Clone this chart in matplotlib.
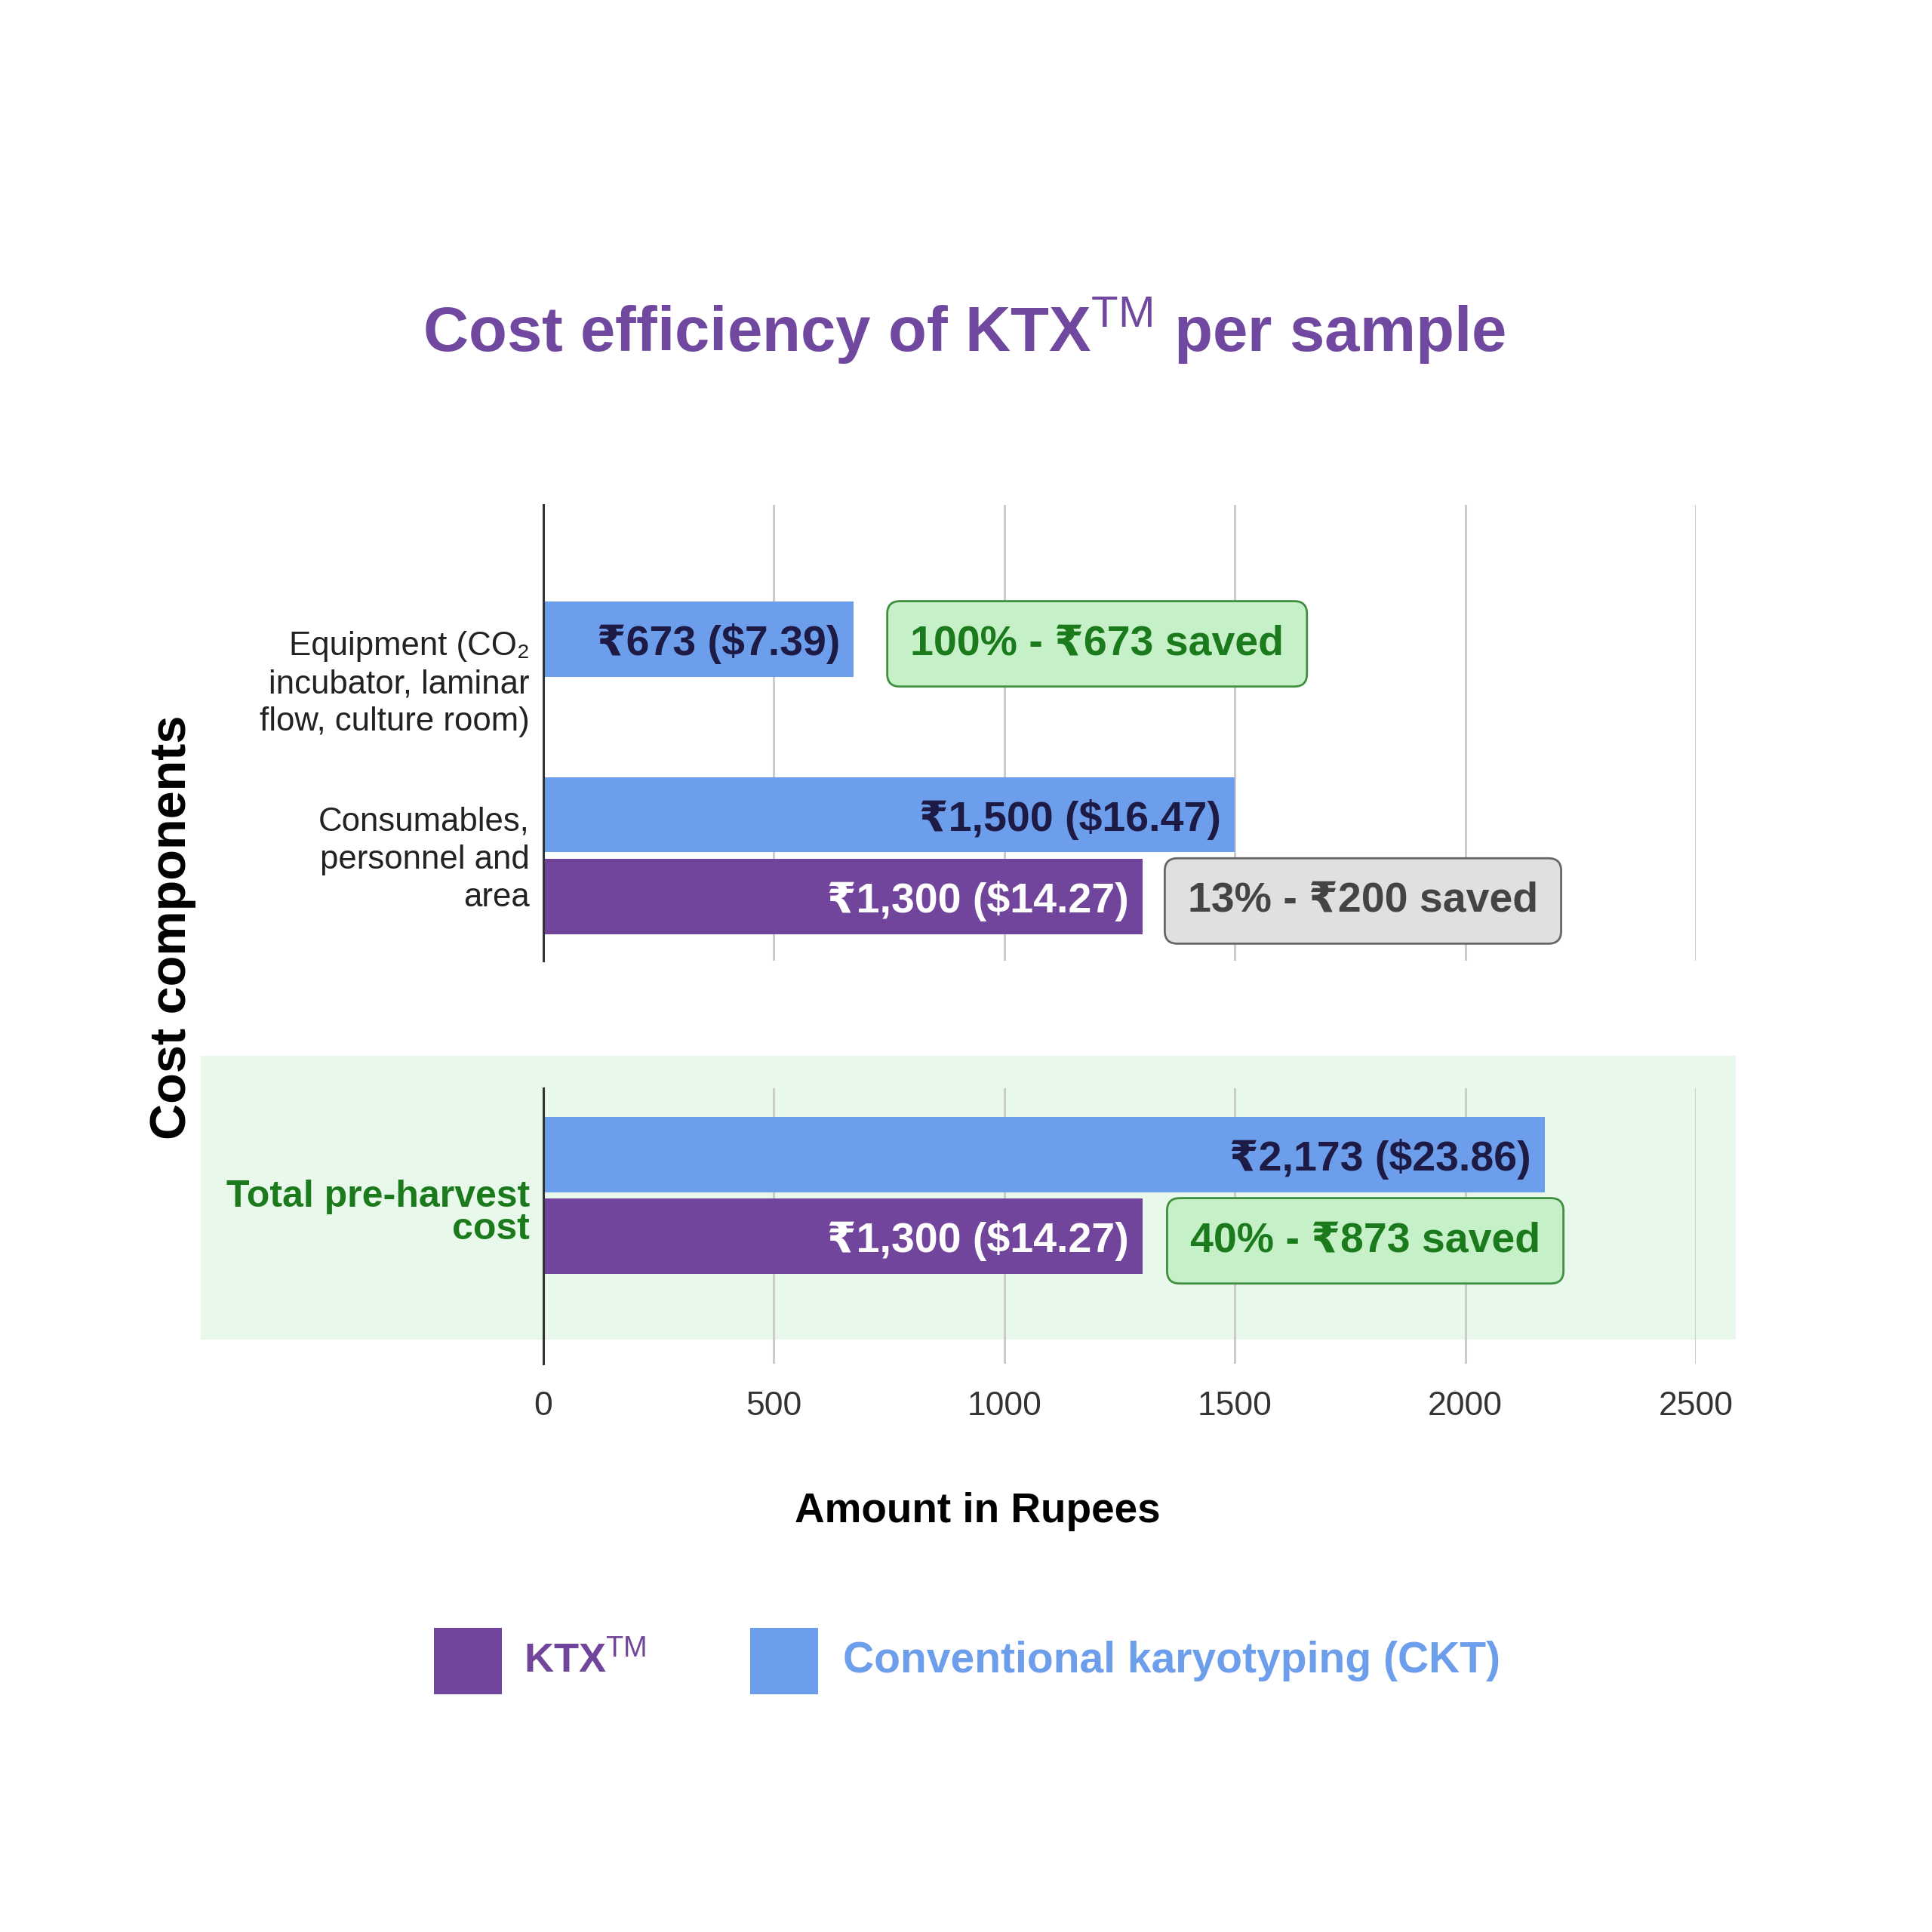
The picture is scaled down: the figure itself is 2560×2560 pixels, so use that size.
import matplotlib as mpl
import matplotlib.pyplot as plt
from matplotlib.patches import Rectangle
from matplotlib.transforms import blended_transform_factory

mpl.use("agg")
plt.rcParams["font.family"] = ["Liberation Sans", "DejaVu Sans"]
plt.rcParams["mathtext.fontset"] = "custom"
plt.rcParams["mathtext.rm"] = "Liberation Sans"
plt.rcParams["mathtext.bf"] = "Liberation Sans:bold"

# data
categories = ["Equipment (CO\u2082\nincubator, laminar\nflow, culture room)",
              "Consumables,\npersonnel and\narea"]
ckt_rupees = [673, 1500]
ckt_usd = [7.39, 16.47]
ktx_rupees = [0, 1300]
ktx_usd = [0.0, 14.27]

total_label = "Total pre-harvest\ncost"
total_ckt_rupees = 2173
total_ckt_usd = 23.86
total_ktx_rupees = 1300
total_ktx_usd = 14.27

xticks = [0, 500, 1000, 1500, 2000, 2500]

PURPLE = "#71459b"
BLUE = "#6d9eeb"
NAVY = "#1d1b45"
GREEN_TXT = "#1b7a1b"
BAR_H = 0.43
OFF = 0.233
LBL = 40  # size of the value / saving labels


def money(r, d):
    return f"\u20b9{r:,} (${d:.2f})"


def saved(ckt, ktx):
    return f"{round(100 * (ckt - ktx) / ckt)}% - \u20b9{ckt - ktx:,} saved"


def style_axis(ax):
    ax.set_xlim(0, 2500)
    ax.set_xticks(xticks)
    ax.grid(axis="x", color="#cccccc", lw=2.2, zorder=0)
    ax.set_axisbelow(True)
    for s in ["top", "right", "bottom"]:
        ax.spines[s].set_visible(False)
    ax.spines["left"].set_color("#333333")
    ax.spines["left"].set_linewidth(2.2)
    ax.tick_params(length=0)


def value_label(ax, x, y, txt, color):
    ax.text(x - 30, y, txt, ha="right", va="center_baseline", fontsize=LBL, fontweight="bold",
            color=color, zorder=3)


def box_label(ax, x, y, txt, fc, ec, tc):
    ax.text(x + 108, y, txt, ha="left", va="center_baseline", fontsize=LBL, fontweight="bold", color=tc,
            bbox=dict(boxstyle="round,pad=0.55,rounding_size=0.3", fc=fc, ec=ec, lw=2))


fig = plt.figure(figsize=(25.6, 25.6), dpi=100)

# green panel behind the total row
fig.patches.append(Rectangle((0.1039, 0.3066), 0.7945, 0.1469, transform=fig.transFigure,
                             facecolor="#e8f8ea", edgecolor="none", zorder=-1))

# upper axes: cost components
ax1 = fig.add_axes([0.28125, 0.5027, 0.5965, 0.236])
style_axis(ax1)
ax1.set_ylim(2.6, 0)
ax1.set_xticklabels([])
groups = [1, 2]
for i, g in enumerate(groups):
    ax1.barh(g - OFF, ckt_rupees[i], height=BAR_H, color=BLUE, zorder=2)
    value_label(ax1, ckt_rupees[i], g - OFF, money(ckt_rupees[i], ckt_usd[i]), NAVY)
    if ktx_rupees[i] > 0:
        ax1.barh(g + OFF, ktx_rupees[i], height=BAR_H, color=PURPLE, zorder=2)
        value_label(ax1, ktx_rupees[i], g + OFF, money(ktx_rupees[i], ktx_usd[i]), "white")
        box_label(ax1, ktx_rupees[i] - 10, g + OFF, saved(ckt_rupees[i], ktx_rupees[i]),
                  "#e0e0e0", "#666666", "#444444")
    else:
        box_label(ax1, ckt_rupees[i] + 15, g - OFF, saved(ckt_rupees[i], ktx_rupees[i]),
                  "#c6f1c8", "#3f8f3f", GREEN_TXT)
ax1.set_yticks([g - 0.015 for g in groups])
ax1.set_yticklabels(categories, fontsize=31.5, color="#222222", linespacing=1.28)
ax1.tick_params(axis="y", pad=13)

# lower axes: total
ax2 = fig.add_axes([0.28125, 0.2941, 0.5965, 0.1426], facecolor="none")
style_axis(ax2)
ax2.set_ylim(1.573, 0)
gt = 0.612
ax2.barh(gt - OFF, total_ckt_rupees, height=BAR_H, color=BLUE, zorder=2)
value_label(ax2, total_ckt_rupees, gt - OFF, money(total_ckt_rupees, total_ckt_usd), NAVY)
ax2.barh(gt + OFF, total_ktx_rupees, height=BAR_H, color=PURPLE, zorder=2)
value_label(ax2, total_ktx_rupees, gt + OFF, money(total_ktx_rupees, total_ktx_usd), "white")
box_label(ax2, total_ktx_rupees - 5, gt + OFF, saved(total_ckt_rupees, total_ktx_rupees),
          "#c6f1c8", "#3f8f3f", GREEN_TXT)
ax2.set_yticks([])
ax2.text(-0.0118, gt + 0.1, total_label, transform=blended_transform_factory(ax2.transAxes, ax2.transData),
         ha="right", va="center", fontsize=36, fontweight="bold", color=GREEN_TXT, linespacing=0.92)
ax2.set_xticklabels([str(t) for t in xticks], fontsize=32, color="#333333")
ax2.tick_params(axis="x", pad=26)

# titles and labels
fig.text(0.499, 0.829, r"Cost efficiency of KTX$^{\mathrm{TM}}$ per sample", ha="center", va="center",
         fontsize=60, fontweight="bold", color="#7048a0")
fig.text(0.506, 0.2175, "Amount in Rupees", ha="center", va="center", fontsize=39.5, fontweight="bold",
         color="black")
fig.text(0.0895, 0.52, "Cost components", ha="center", va="center", rotation=90, fontsize=48,
         fontweight="bold", color="black")

# legend
fig.patches.append(Rectangle((0.2246, 0.1230), 0.0352, 0.0344, transform=fig.transFigure,
                             facecolor=PURPLE, edgecolor="none"))
fig.text(0.271, 0.1402, r"KTX$^{\mathrm{TM}}$", ha="left", va="center", fontsize=39,
         fontweight="bold", color=PURPLE)
fig.patches.append(Rectangle((0.3883, 0.1230), 0.0352, 0.0344, transform=fig.transFigure,
                             facecolor=BLUE, edgecolor="none"))
fig.text(0.4363, 0.1402, "Conventional karyotyping (CKT)", ha="left", va="center", fontsize=41,
         fontweight="bold", color=BLUE)

fig.savefig("out.png", dpi=100, facecolor="white")
